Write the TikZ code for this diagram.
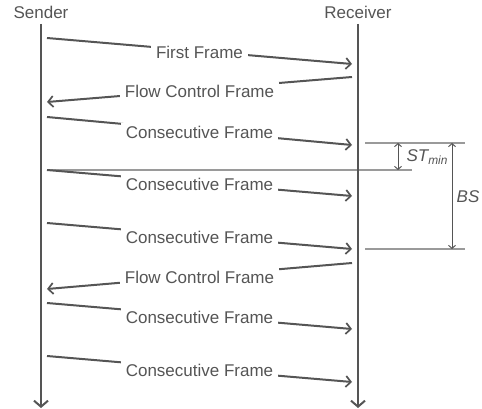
\documentclass[tikz,border=0pt]{standalone}
\usepackage{fontspec}
\setmainfont{Liberation Sans}
\usetikzlibrary{arrows.meta,calc}
\definecolor{ink}{HTML}{555555}
\definecolor{rule}{HTML}{9A9A9A}
\begin{document}
\begin{tikzpicture}[x=1pt,y=-1pt,
  lifeline/.style={draw=ink,line width=2.8pt,-{Straight Barb[length=6pt,width=14pt,line width=2pt]}},
  msg/.style={draw=ink,line width=2pt,-{Straight Barb[length=5pt,width=11pt,line width=1.7pt]}},
  msglabel/.style={fill=white,text=ink,inner xsep=5pt,inner ysep=3pt,yshift=-1.5pt,font=\fontsize{17}{20}\selectfont},
  who/.style={text=ink,font=\fontsize{17}{20}\selectfont},
  guide/.style={draw=rule,line width=1.3pt},
  span/.style={draw=ink,line width=1pt,{Straight Barb[length=3pt,width=7pt]}-{Straight Barb[length=3pt,width=7pt]}},
  spanlabel/.style={text=ink,font=\fontsize{17}{20}\selectfont\itshape}]
\useasboundingbox (0,0) rectangle (482,409);

% participants
\node[who] (sender) at (41,12) {Sender};
\node[who] (receiver) at (358,12) {Receiver};
\coordinate (s-top) at (41,24);
\coordinate (s-bot) at (41,408);
\coordinate (r-top) at (358,24);
\coordinate (r-bot) at (358,408);

% timing guides
\coordinate (g1a) at (365,143); \coordinate (g1b) at (465,143);
\coordinate (g2a) at (47,170);  \coordinate (g2b) at (412,170);
\coordinate (g3a) at (365,249); \coordinate (g3b) at (465,249);
\draw[guide] (g1a) -- (g1b);
\draw[guide] (g2a) -- (g2b);
\draw[guide] (g3a) -- (g3b);

% lifelines
\draw[lifeline] (s-top) -- (s-bot);
\draw[lifeline] (r-top) -- (r-bot);

% frame exchange
\foreach \n/\xa/\ya/\xb/\yb/\txt in {
  1/47/38/352/64/First Frame,
  2/352/77/47/102/Flow Control Frame,
  3/47/117/352/145/Consecutive Frame,
  4/47/170/352/196/Consecutive Frame,
  5/47/223/352/249/Consecutive Frame,
  6/352/263/47/289/Flow Control Frame,
  7/47/303/352/329/Consecutive Frame,
  8/47/356/352/382/Consecutive Frame} {
  \coordinate (m\n-from) at (\xa,\ya);
  \coordinate (m\n-to) at (\xb,\yb);
  \draw[msg] (m\n-from) -- (m\n-to);
  \node[msglabel] (m\n-label) at ($(m\n-from)!0.5!(m\n-to)$) {\txt};
}

% separation time and block size
\coordinate (st-top) at (398,143); \coordinate (st-bot) at (398,170);
\coordinate (bs-top) at (452,143); \coordinate (bs-bot) at (452,249);
\draw[span] (st-top) -- (st-bot);
\draw[span] (bs-top) -- (bs-bot);
\node[spanlabel,anchor=west] (stmin) at (403,157) {ST\textsubscript{min}};
\node[spanlabel] (bs) at (468,197) {BS};
\end{tikzpicture}
\end{document}
